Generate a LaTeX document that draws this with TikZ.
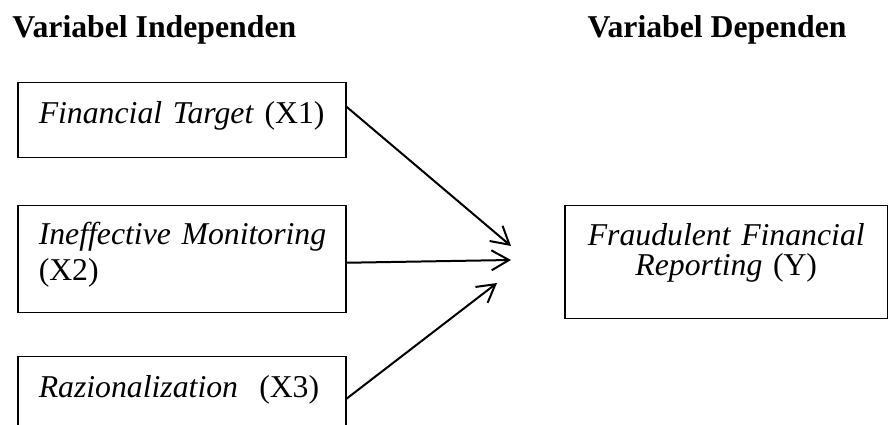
\documentclass[tikz,border=0pt]{standalone}
\usepackage{fontspec}
\setmainfont{Liberation Serif}
\usetikzlibrary{arrows.meta}
\tikzset{
  varbox/.style={draw, line width=0.6pt, anchor=north west, inner xsep=8.4pt, inner ysep=0pt, font=\fontsize{12.7}{14.4}\selectfont},
  hdr/.style={anchor=base west, inner sep=0pt, font=\fontsize{12.7}{14.4}\selectfont\bfseries},
  arr/.style={-{Straight Barb[length=7pt,width=8pt]}, line width=0.8pt},
}
\begin{document}
\begin{tikzpicture}[x=0.4pt,y=-0.4pt]
  \clip (0,0) rectangle (888,425);
  % headings
  \node[hdr] (hind) at (12,38) {Variabel Independen};
  \node[hdr] (hdep) at (587,38) {Variabel Dependen};
  % independent variables
  \node[varbox, align=left, text width=114.4pt, text height=16.4pt, text depth=13.6pt] (x1) at (17,82) {\mbox{\textit{Financial Target} (X1)}};
  \node[varbox, align=left, text width=114.4pt, text height=15.6pt, text depth=27.2pt] (x2) at (17,205) {\mbox{\textit{Ineffective Monitoring}}\\(X2)};
  \node[varbox, align=left, text width=114.4pt, text height=16.4pt, text depth=13.6pt] (x3) at (17,356) {\mbox{\textit{Razionalization}~ (X3)}};
  % dependent variable
  \node[varbox, align=center, inner xsep=4pt, text width=121.2pt, text height=16pt, text depth=29.2pt] (y) at (564,205) {\mbox{\textit{Fraudulent Financial}}\\[-2.4pt]\mbox{\textit{Reporting} (Y)}};
  % arrows
  \coordinate (t1) at (511,246);
  \coordinate (t2) at (511,260);
  \coordinate (t3) at (497,283);
  \draw[arr] ([yshift=5.4pt]x1.east) -- (t1);
  \draw[arr] ([yshift=-1.4pt]x2.east) -- (t2);
  \draw[arr] ([yshift=-1.8pt]x3.east) -- (t3);
\end{tikzpicture}
\end{document}
